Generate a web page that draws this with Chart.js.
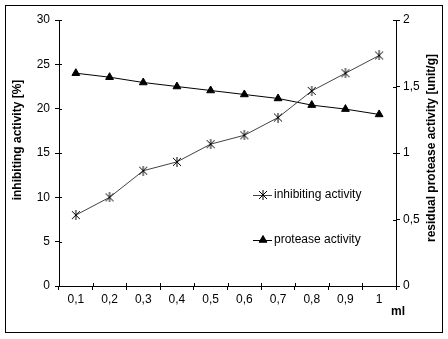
<!DOCTYPE html>
<html>
<head>
<meta charset="utf-8">
<script src="https://cdn.jsdelivr.net/npm/chart.js@4.4.0/dist/chart.umd.min.js"></script>
<style>
  html, body { margin: 0; padding: 0; background: #fff; }
  #wrap { width: 448px; height: 339px; position: relative; }
</style>
</head>
<body>
<div id="wrap"><canvas id="chart" width="448" height="339"></canvas></div>
<script>
const volumes = ['0,1', '0,2', '0,3', '0,4', '0,5', '0,6', '0,7', '0,8', '0,9', '1'];
const inhibiting = [8, 10, 13, 14, 16, 17, 19, 22, 24, 26];
const protease = [1.6, 1.57, 1.53, 1.5, 1.47, 1.44, 1.41, 1.36, 1.33, 1.29];

const FONT = 'Liberation Sans, Arial, sans-serif';

const comma = v => String(v).replace('.', ',');

// six-armed asterisk marker: an X with a vertical bar through it
function asterisk() {
  const c = document.createElement('canvas');
  c.width = 10; c.height = 10;
  const g = c.getContext('2d');
  g.strokeStyle = '#000';
  g.lineWidth = 1;
  g.beginPath();
  g.moveTo(1, 1); g.lineTo(9, 9);
  g.moveTo(9, 1); g.lineTo(1, 9);
  g.moveTo(5, 0); g.lineTo(5, 10);
  g.stroke();
  return c;
}
const starMark = asterisk();

// frame, inner tick halves, axis titles and the legend box inside the plot
const extras = {
  id: 'extras',
  beforeDraw(chart) {
    const ctx = chart.ctx;
    ctx.save();
    ctx.fillStyle = '#fff';
    ctx.fillRect(0, 0, chart.width, chart.height);
    ctx.strokeStyle = '#000';
    ctx.lineWidth = 1;
    ctx.strokeRect(5.5, 5.5, 437, 327);
    ctx.restore();
  },
  afterDraw(chart) {
    const ctx = chart.ctx;
    const a = chart.chartArea;
    const { x, y, y1 } = chart.scales;
    ctx.save();
    ctx.strokeStyle = '#000';
    ctx.lineWidth = 1;
    ctx.beginPath();
    y.ticks.forEach((t, i) => {
      const py = Math.round(y.getPixelForTick(i)) + 0.5;
      ctx.moveTo(a.left, py); ctx.lineTo(a.left + 3, py);
    });
    y1.ticks.forEach((t, i) => {
      const py = Math.round(y1.getPixelForTick(i)) + 0.5;
      ctx.moveTo(a.right - 3, py); ctx.lineTo(a.right, py);
    });
    const n = volumes.length;
    for (let i = 0; i <= n; i++) {
      const px = Math.round(x.left + i * x.width / n) + 0.5;
      ctx.moveTo(px, a.bottom); ctx.lineTo(px, a.bottom - 3);
    }
    ctx.stroke();

    ctx.fillStyle = '#000';
    ctx.font = 'bold 12px ' + FONT;
    ctx.textAlign = 'center';
    ctx.textBaseline = 'middle';
    ctx.save();
    ctx.translate(18, 140);
    ctx.rotate(-Math.PI / 2);
    ctx.fillText('inhibiting activity [%]', 0, 0);
    ctx.restore();
    ctx.save();
    ctx.translate(432, 148);
    ctx.rotate(-Math.PI / 2);
    ctx.fillText('residual protease activity [unit/g]', 0, 0);
    ctx.restore();
    ctx.fillText('ml', 398, 312);

    // legend
    ctx.font = '12px ' + FONT;
    ctx.textAlign = 'left';
    const lx = a.left + 194, ly = a.top + 175;
    chart.data.datasets.forEach((ds, i) => {
      const cy = ly + i * 45;
      ctx.strokeStyle = ds.borderColor;
      ctx.beginPath();
      ctx.moveTo(lx, cy + 0.5); ctx.lineTo(lx + 19, cy + 0.5);
      ctx.stroke();
      Chart.helpers.drawPoint(ctx, {
        pointStyle: ds.pointStyle, radius: ds.pointRadius, borderWidth: 1
      }, lx + 10, cy);
      ctx.fillText(ds.label, lx + 21, cy);
    });
    ctx.restore();
  }
};

new Chart(document.getElementById('chart'), {
  type: 'line',
  data: {
    labels: volumes,
    datasets: [
      {
        label: 'inhibiting activity',
        data: inhibiting,
        yAxisID: 'y',
        borderColor: '#444',
        borderWidth: 1,
        pointStyle: starMark,
        pointRadius: 5,
        tension: 0
      },
      {
        label: 'protease activity',
        data: protease,
        yAxisID: 'y1',
        borderColor: '#000',
        borderWidth: 1,
        pointStyle: 'triangle',
        pointRadius: 4.5,
        pointBorderColor: '#000',
        pointBackgroundColor: '#000',
        pointBorderWidth: 1,
        tension: 0
      }
    ]
  },
  options: {
    responsive: false,
    animation: false,
    devicePixelRatio: 1,
    layout: { padding: { top: 20, left: 0, right: 0, bottom: 0 } },
    plugins: { legend: { display: false }, tooltip: { enabled: false } },
    scales: {
      x: {
        offset: true,
        grid: { offset: true, drawOnChartArea: false, color: '#000', tickLength: 4 },
        border: { color: '#000' },
        ticks: { color: '#000', font: { family: FONT, size: 12 }, padding: 2, maxRotation: 0 },
        afterFit: s => { s.height = 53; }
      },
      y: {
        position: 'left',
        min: 0, max: 30,
        grid: { drawOnChartArea: false, color: '#000', tickLength: 4 },
        border: { color: '#000' },
        ticks: { stepSize: 5, color: '#000', font: { family: FONT, size: 12 }, padding: 5 },
        afterFit: s => { s.width = 59; }
      },
      y1: {
        position: 'right',
        min: 0, max: 2,
        grid: { drawOnChartArea: false, color: '#000', tickLength: 4 },
        border: { color: '#000' },
        ticks: { stepSize: 0.5, color: '#000', font: { family: FONT, size: 12 }, padding: 3, callback: comma },
        afterFit: s => { s.width = 52; }
      }
    }
  },
  plugins: [extras]
});
</script>
</body>
</html>
